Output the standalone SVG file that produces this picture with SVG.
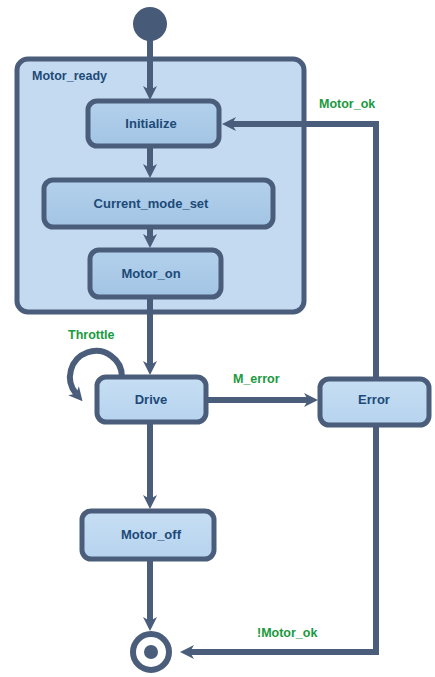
<svg xmlns="http://www.w3.org/2000/svg" width="435" height="677" viewBox="0 0 435 677">
  <defs>
    <marker id="head" markerUnits="userSpaceOnUse" viewBox="0 0 14 16" refX="4" refY="8" markerWidth="14" markerHeight="16" orient="auto">
      <path d="M0,1 L14,8 L0,15 L4,8 z" fill="#4a5d7a"/>
    </marker>
    <linearGradient id="innerFill" x1="0" y1="0" x2="0" y2="1">
      <stop offset="0" stop-color="#b3d1ec"/>
      <stop offset="1" stop-color="#a2c4e4"/>
    </linearGradient>
    <linearGradient id="outerFill" x1="0" y1="0" x2="0" y2="1">
      <stop offset="0" stop-color="#c6def3"/>
      <stop offset="1" stop-color="#b6d3ee"/>
    </linearGradient>
  </defs>
  <style>
    .box { stroke: #4a5d7a; stroke-width: 5; }
    .inner { fill: url(#innerFill); }
    .outer { fill: url(#outerFill); }
    .name { font-family: "Liberation Sans", Arial, sans-serif; font-weight: bold; font-size: 13px; fill: #1d4a78; text-anchor: middle; }
    .title { font-family: "Liberation Sans", Arial, sans-serif; font-weight: bold; font-size: 12.5px; fill: #1d4a78; }
    .guard { font-family: "Liberation Sans", Arial, sans-serif; font-weight: bold; font-size: 12.5px; fill: #1a9a3e; }
    .wire { fill: none; stroke: #4a5d7a; stroke-width: 6; marker-end: url(#head); }
  </style>

  <rect width="435" height="677" fill="#ffffff"/>

  <!-- composite state -->
  <g id="motor_ready">
    <rect class="box" x="17" y="59" width="287" height="253" rx="11" fill="#c4daf0"/>
    <text class="title" x="32" y="80">Motor_ready</text>
  </g>

  <!-- transitions -->
  <g id="connectors">
    <path class="wire" d="M150,40 V90"/>
    <path class="wire" d="M150,147 V168"/>
    <path class="wire" d="M150,228 V238"/>
    <path class="wire" d="M150,298 V365"/>
    <path class="wire" d="M150,423 V499"/>
    <path class="wire" d="M150,560 V621"/>
    <path class="wire" d="M207,400 H308"/>
    <path class="wire" d="M376,378 V124 H232"/>
    <path class="wire" d="M376,427 V652 H190"/>
    <path class="wire" d="M122,377 A26,26 0 1 0 76.1,393.7"/>
  </g>

  <g id="start">
    <circle cx="150" cy="24" r="17" fill="#475a78"/>
  </g>

  <g id="initialize">
    <rect class="box inner" x="88" y="101" width="131" height="45" rx="9"/>
    <text class="name" x="151" y="128">Initialize</text>
  </g>

  <g id="current_mode_set">
    <rect class="box inner" x="44" y="180" width="229" height="47" rx="9"/>
    <text class="name" x="151" y="208">Current_mode_set</text>
  </g>

  <g id="motor_on">
    <rect class="box inner" x="90" y="250" width="131" height="47" rx="9"/>
    <text class="name" x="151" y="278">Motor_on</text>
  </g>

  <g id="drive">
    <rect class="box outer" x="97" y="377" width="109" height="45" rx="9"/>
    <text class="name" x="151" y="404">Drive</text>
  </g>

  <g id="error">
    <rect class="box outer" x="320" y="379" width="109" height="46" rx="9"/>
    <text class="name" x="374" y="404">Error</text>
  </g>

  <g id="motor_off">
    <rect class="box outer" x="82" y="511" width="132" height="48" rx="9"/>
    <text class="name" x="151" y="539">Motor_off</text>
  </g>

  <g id="end">
    <circle cx="151" cy="652" r="18" fill="#ffffff" stroke="#4a5d7a" stroke-width="6"/>
    <circle cx="151" cy="652" r="7" fill="#4a5d7a"/>
  </g>

  <!-- guard labels -->
  <g id="labels">
    <text class="guard" x="319" y="108">Motor_ok</text>
    <text class="guard" x="233" y="383">M_error</text>
    <text class="guard" x="68" y="339">Throttle</text>
    <text class="guard" x="257" y="637">!Motor_ok</text>
  </g>
</svg>
